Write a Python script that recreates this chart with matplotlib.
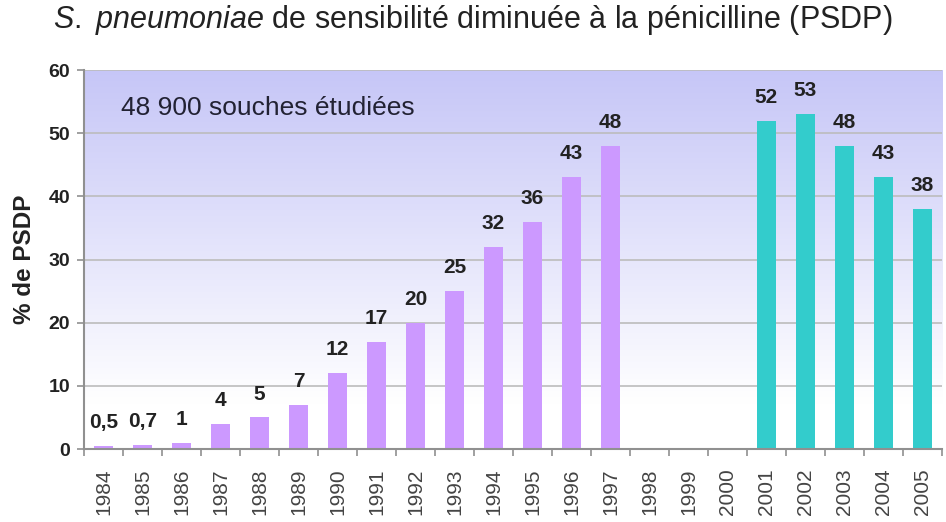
import matplotlib
matplotlib.use("Agg")
import matplotlib.pyplot as plt
import numpy as np
from matplotlib.colors import LinearSegmentedColormap

years = [str(y) for y in range(1984, 2006)]
values = [0.5, 0.7, 1, 4, 5, 7, 12, 17, 20, 25, 32, 36, 43, 48,
          None, None, None, 52, 53, 48, 43, 38]
labels = ["0,5", "0,7", "1", "4", "5", "7", "12", "17", "20", "25", "32", "36", "43", "48",
          "", "", "", "52", "53", "48", "43", "38"]
yticks = [0, 10, 20, 30, 40, 50, 60]

plt.rcParams['font.family'] = ['Liberation Sans', 'DejaVu Sans']
plt.rcParams['mathtext.fontset'] = 'custom'
plt.rcParams['mathtext.rm'] = 'Liberation Sans'
plt.rcParams['mathtext.it'] = 'Liberation Sans:italic'

fig = plt.figure(figsize=(9.46, 5.22), dpi=100)
ax = fig.add_axes([0.0888, 0.1398, 0.907, 0.7261])

n = len(years)
x = np.arange(n)
ax.set_xlim(-0.5, n - 0.5)
ax.set_ylim(0, 60)

# gradient background
cmap = LinearSegmentedColormap.from_list("bg", [(0, "#ffffff"), (0.12, "#ffffff"), (1.0, "#c6c6f7")])
grad = np.linspace(0, 1, 256).reshape(-1, 1)
ax.imshow(grad, extent=[-0.5, n - 0.5, 0, 60], origin="lower", aspect="auto", cmap=cmap, zorder=0)

for v in yticks[1:]:
    ax.axhline(v, color="#bcbcbc", lw=1.2, zorder=1)

for i, (v, lab) in enumerate(zip(values, labels)):
    if v is None:
        continue
    col = "#cc99ff" if i < 14 else "#33cccc"
    ax.bar(i, v, width=0.5, color=col, zorder=2)
    ax.text(i, v + 2.2, lab, ha="center", va="bottom", fontsize=15, fontweight="bold",
            color="#222222")

ax.set_yticks(yticks)
ax.set_yticklabels([str(t) for t in yticks], fontsize=14, fontweight="bold", color="#222222")
ax.set_xticks(x)
ax.set_xticklabels(years, rotation=90, fontsize=15, color="#444444")
ax.set_xticks(np.arange(-0.5, n, 1), minor=True)
ax.tick_params(axis="x", which="major", length=0, pad=14)
ax.tick_params(axis="x", which="minor", length=5, color="#909090", width=1.2)
ax.tick_params(axis="y", length=5, color="#909090", width=1.2, pad=5)

for s in ["top", "right"]:
    ax.spines[s].set_visible(False)
for s in ["left", "bottom"]:
    ax.spines[s].set_color("#909090")
    ax.spines[s].set_linewidth(1.5)

ax.set_ylabel("% de PSDP", fontsize=17.5, fontweight="bold", color="#222222", labelpad=9)

ax.text(0.45, 54.0, "48 900 souches étudiées", fontsize=19, color="#222233", ha="left", va="center", zorder=3)

fig.text(0.5, 0.962, r"$\mathit{S.}$ $\mathit{pneumoniae}$ de sensibilité diminuée à la pénicilline (PSDP)",
         ha="center", va="center", fontsize=22, color="#222222")

fig.savefig("out.png", dpi=100)
